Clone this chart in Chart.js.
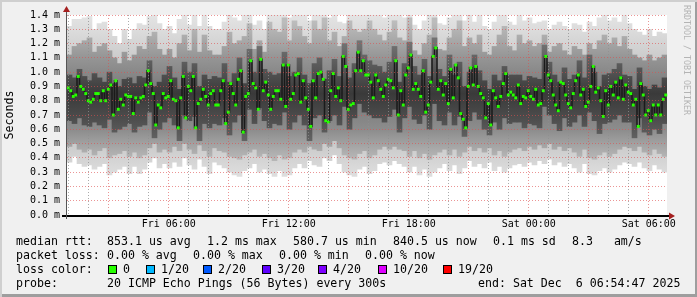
<!DOCTYPE html>
<html>
<head>
<meta charset="utf-8">
<script src="https://cdn.jsdelivr.net/npm/chart.js@4.4.1/dist/chart.umd.min.js"></script>
<style>
  body { margin: 0; background: #f0f0f0; }
  #wrap {
    position: relative; width: 697px; height: 297px; background: #f0f0f0;
    box-shadow: inset 2px 2px 0 #cfcfcf, inset -2px -3px 0 #9e9e9e;
  }
  #wrap canvas { position: absolute; left: 0; top: 0; }
  .t { position: absolute; font: 11.6px "DejaVu Sans Mono", monospace; line-height: 14px; white-space: pre; color: #000; }
  .box { position: absolute; width: 7px; height: 7px; border: 1px solid #000; }
  #credit {
    position: absolute; left: 682px; top: 5px; writing-mode: vertical-rl;
    font: 8.3px "DejaVu Sans Mono", monospace; line-height: 10px; color: #b4b4b4; white-space: pre;
  }
</style>
</head>
<body>
<div id="wrap">
  <canvas id="smoke" width="697" height="297"></canvas>

  <div class="t" style="left:16px; top:234px">median rtt:</div>
  <div class="t" style="left:107px; top:234px">853.1 us avg</div>
  <div class="t" style="left:207px; top:234px">1.2 ms max</div>
  <div class="t" style="left:293px; top:234px">580.7 us min</div>
  <div class="t" style="left:393px; top:234px">840.5 us now</div>
  <div class="t" style="left:493px; top:234px">0.1 ms sd</div>
  <div class="t" style="left:572px; top:234px">8.3   am/s</div>

  <div class="t" style="left:16px; top:248px">packet loss:</div>
  <div class="t" style="left:107px; top:248px">0.00 % avg</div>
  <div class="t" style="left:193px; top:248px">0.00 % max</div>
  <div class="t" style="left:279px; top:248px">0.00 % min</div>
  <div class="t" style="left:365px; top:248px">0.00 % now</div>

  <div class="t" style="left:16px; top:262px">loss color:</div>
  <div id="lossRow"></div>

  <div class="t" style="left:16px; top:276px">probe:</div>
  <div class="t" style="left:107px; top:276px">20 ICMP Echo Pings (56 Bytes) every 300s</div>
  <div class="t" style="left:478px; top:276px">end: Sat Dec  6 06:54:47 2025</div>

  <div id="credit">RRDTOOL / TOBI OETIKER</div>
</div>
<script>
// smoke envelope in ms, one entry per 5-pixel slot (30 h window)
const rttMax = [
  1.32,1.37,1.37,1.38,1.39,1.30,1.34,1.35,1.30,1.25,
  1.20,1.30,1.23,1.30,1.34,1.33,1.39,1.42,1.34,1.30,
  1.32,1.27,1.37,1.40,1.33,1.42,1.32,1.40,1.32,1.30,
  1.30,1.35,1.42,1.38,1.36,1.40,1.42,1.33,1.36,1.30,
  1.42,1.45,1.42,1.45,1.38,1.42,1.45,1.40,1.36,1.45,
  1.42,1.45,1.38,1.40,1.35,1.34,1.45,1.42,1.40,1.42,
  1.45,1.42,1.40,1.38,1.42,1.45,1.40,1.38,1.45,1.33,
  1.30,1.36,1.40,1.45,1.34,1.33,1.38,1.42,1.45,1.36,
  1.40,1.35,1.40,1.32,1.30,1.35,1.40,1.42,1.35,1.33,
  1.40,1.36,1.38,1.34,1.35,1.36,1.30,1.33,1.35,1.32,
  1.30,1.34,1.33,1.28,1.35,1.32,1.38,1.40,1.36,1.38,
  1.35,1.40,1.34,1.30,1.28,1.26,1.30,1.25,1.28,1.27
];
const rttHi2 = [
  1.12,1.18,1.20,1.22,1.24,1.14,1.18,1.20,1.15,1.10,
  1.06,1.14,1.08,1.12,1.18,1.16,1.25,1.28,1.16,1.12,
  1.16,1.10,1.20,1.26,1.15,1.30,1.14,1.26,1.15,1.12,
  1.12,1.18,1.28,1.20,1.22,1.25,1.34,1.16,1.22,1.14,
  1.35,1.30,1.28,1.38,1.22,1.36,1.32,1.25,1.20,1.36,
  1.30,1.38,1.22,1.28,1.18,1.25,1.36,1.30,1.28,1.30,
  1.36,1.30,1.26,1.22,1.28,1.36,1.24,1.22,1.38,1.15,
  1.12,1.20,1.26,1.38,1.16,1.15,1.24,1.30,1.36,1.18,
  1.24,1.20,1.26,1.14,1.12,1.18,1.26,1.32,1.18,1.15,
  1.26,1.20,1.22,1.18,1.20,1.26,1.14,1.18,1.20,1.15,
  1.12,1.18,1.16,1.12,1.20,1.16,1.22,1.26,1.20,1.24,
  1.18,1.25,1.16,1.12,1.10,1.08,1.12,1.08,1.10,1.12
];
const rttHi3 = [
  0.98,0.96,1.02,0.97,0.94,0.99,0.96,0.93,1.00,0.92,
  0.90,0.95,0.96,0.92,0.97,0.96,1.08,0.90,0.93,0.98,
  1.04,0.96,0.88,1.07,1.00,1.06,0.90,0.98,0.95,0.97,
  0.96,1.06,0.93,0.99,1.10,0.92,1.16,1.00,1.18,1.02,
  1.00,0.98,0.99,1.14,0.97,1.00,1.10,0.98,0.92,1.06,
  1.10,0.95,1.01,1.09,0.97,1.20,0.96,1.06,1.22,1.12,
  1.08,1.05,1.04,1.00,1.07,1.18,0.93,1.06,1.21,1.04,
  0.98,1.09,0.97,1.24,1.02,0.97,1.12,0.98,1.07,0.90,
  1.00,1.12,1.01,0.94,0.88,0.98,0.94,1.04,0.98,0.98,
  0.98,0.94,0.97,0.96,0.95,1.19,1.07,0.98,0.93,1.03,
  0.95,0.98,1.08,0.96,1.12,1.00,0.90,0.98,0.99,1.02,
  1.06,0.98,0.97,0.88,1.03,0.90,0.88,0.91,0.89,0.96
];
const rttLo3 = [
  0.66,0.64,0.68,0.63,0.62,0.65,0.63,0.61,0.67,0.58,
  0.60,0.62,0.64,0.58,0.62,0.63,0.72,0.54,0.60,0.65,
  0.68,0.63,0.52,0.70,0.66,0.69,0.52,0.64,0.61,0.64,
  0.63,0.68,0.56,0.65,0.70,0.52,0.74,0.64,0.75,0.66,
  0.61,0.64,0.63,0.72,0.60,0.65,0.70,0.63,0.52,0.68,
  0.70,0.58,0.66,0.70,0.63,0.76,0.60,0.68,0.78,0.72,
  0.70,0.68,0.68,0.65,0.69,0.74,0.58,0.68,0.76,0.67,
  0.64,0.70,0.60,0.78,0.66,0.63,0.72,0.63,0.69,0.55,
  0.66,0.72,0.67,0.60,0.56,0.65,0.60,0.68,0.64,0.65,
  0.65,0.61,0.64,0.63,0.61,0.76,0.70,0.64,0.59,0.68,
  0.62,0.65,0.70,0.62,0.72,0.66,0.57,0.64,0.65,0.67,
  0.70,0.65,0.65,0.54,0.68,0.58,0.56,0.60,0.57,0.64
];
const rttLo2 = [
  0.48,0.50,0.46,0.44,0.46,0.42,0.45,0.47,0.40,0.42,
  0.43,0.45,0.41,0.44,0.40,0.42,0.47,0.50,0.44,0.46,
  0.44,0.48,0.45,0.50,0.46,0.43,0.49,0.45,0.41,0.47,
  0.45,0.44,0.41,0.40,0.39,0.42,0.44,0.46,0.41,0.43,
  0.40,0.38,0.42,0.39,0.40,0.44,0.46,0.44,0.48,0.46,
  0.45,0.50,0.48,0.52,0.47,0.42,0.40,0.39,0.43,0.45,
  0.40,0.42,0.46,0.48,0.46,0.48,0.46,0.45,0.41,0.45,
  0.40,0.43,0.39,0.42,0.44,0.46,0.42,0.46,0.41,0.44,
  0.48,0.45,0.47,0.44,0.47,0.42,0.45,0.41,0.44,0.46,
  0.47,0.45,0.48,0.46,0.49,0.47,0.50,0.46,0.48,0.45,
  0.47,0.44,0.41,0.46,0.40,0.39,0.42,0.44,0.41,0.43,
  0.46,0.48,0.47,0.45,0.48,0.44,0.42,0.46,0.43,0.41
];
const rttMin = [
  0.37,0.41,0.36,0.34,0.35,0.32,0.34,0.36,0.28,0.30,
  0.32,0.34,0.29,0.34,0.29,0.32,0.37,0.40,0.33,0.36,
  0.33,0.37,0.34,0.40,0.35,0.32,0.39,0.34,0.29,0.37,
  0.35,0.33,0.30,0.28,0.27,0.31,0.33,0.36,0.30,0.32,
  0.29,0.27,0.31,0.27,0.28,0.33,0.36,0.33,0.38,0.35,
  0.34,0.40,0.38,0.42,0.36,0.30,0.28,0.27,0.32,0.34,
  0.29,0.31,0.36,0.37,0.35,0.38,0.36,0.34,0.30,0.34,
  0.28,0.32,0.27,0.30,0.33,0.36,0.31,0.35,0.29,0.33,
  0.38,0.34,0.36,0.33,0.37,0.31,0.34,0.30,0.33,0.35,
  0.36,0.34,0.37,0.35,0.38,0.36,0.39,0.35,0.37,0.34,
  0.36,0.33,0.30,0.36,0.29,0.28,0.31,0.33,0.30,0.32,
  0.35,0.37,0.36,0.34,0.37,0.33,0.31,0.35,0.32,0.30
];
// median rtt in ms, one entry per 2.5-pixel slot
const rttMedian = [
  0.89,0.87,0.83,0.84,0.97,0.90,0.88,0.85,0.80,0.79,
  0.81,0.85,0.85,0.80,0.87,0.80,0.88,0.91,0.70,0.94,
  0.74,0.81,0.77,0.84,0.83,0.83,0.71,0.82,0.79,0.82,
  0.83,0.91,1.01,0.92,0.85,0.63,0.77,0.75,0.85,0.82,
  0.83,0.94,0.81,0.80,0.61,0.82,0.97,0.68,0.90,0.87,
  0.97,0.61,0.78,0.81,0.88,0.83,0.77,0.85,0.87,0.77,
  0.77,0.87,0.94,0.64,0.72,0.92,0.85,0.77,0.95,1.01,
  0.58,0.83,0.85,1.08,0.92,0.89,0.74,1.09,0.87,0.93,
  0.84,0.74,0.83,0.87,0.87,0.81,1.05,0.76,1.05,0.81,
  0.85,0.98,0.99,0.79,0.94,0.82,0.74,0.62,0.94,0.82,
  0.99,1.00,0.95,0.66,0.65,0.87,0.99,0.83,0.89,0.80,
  1.11,1.04,0.74,0.77,0.78,1.01,1.14,1.01,1.08,0.98,
  0.98,0.93,0.82,0.98,0.94,0.88,0.83,0.91,0.95,0.94,
  0.89,1.08,0.70,0.87,0.77,0.98,1.03,1.12,0.88,0.92,
  0.88,0.83,1.01,0.72,0.77,0.93,1.11,1.17,0.88,0.94,
  0.84,0.92,0.78,1.02,0.82,1.05,0.96,0.71,0.67,0.61,
  0.90,1.03,0.91,1.04,0.90,0.85,0.82,0.68,0.78,0.63,
  0.87,0.82,0.76,0.83,0.92,0.99,0.84,0.86,0.84,0.82,
  0.91,0.78,0.83,0.82,0.87,0.83,0.81,0.88,0.77,0.78,
  0.87,1.11,0.98,0.94,0.84,0.77,0.73,0.93,0.92,0.84,
  0.78,0.75,0.85,0.94,0.98,0.84,0.88,0.76,0.79,0.90,
  1.04,0.86,0.89,0.80,0.69,0.87,0.77,0.90,0.84,0.93,
  0.82,0.96,0.81,0.91,0.86,0.85,0.77,0.81,0.62,0.92,
  0.84,0.70,0.73,0.66,0.77,0.70,0.77,0.70,0.81,0.84
];
const timeLabels = ["Fri 06:00", "Fri 12:00", "Fri 18:00", "Sat 00:00", "Sat 06:00"];
const lossLabels = ["0", "1/20", "2/20", "3/20", "4/20", "10/20", "19/20"];
const lossColors = ["#26ff00", "#00b8ff", "#0059ff", "#5e00ff", "#7e00ff", "#dd00ff", "#ff0000"];

// loss colour legend
const lossX = [108, 146, 203, 262, 318, 378, 443];
let row = document.getElementById("lossRow");
lossLabels.forEach(function (lab, i) {
  let b = document.createElement("div");
  b.className = "box";
  b.style.left = lossX[i] + "px";
  b.style.top = "265px";
  b.style.background = lossColors[i];
  row.appendChild(b);
  let t = document.createElement("div");
  t.className = "t";
  t.style.left = (lossX[i] + 15) + "px";
  t.style.top = "262px";
  t.textContent = lab;
  row.appendChild(t);
});

const smokeSlots = rttMax.map((v, i) => String(i));
const medSlots = rttMedian.map((v, i) => String(i));
const firstTick = 1 - 54.78 / 60; // graph starts Fri 00:54:47
const hourTicks = [];
for (let k = 0; k < 30; k++) hourTicks.push(firstTick + k);

const mono = "'DejaVu Sans Mono', monospace";
const minorGrid = "rgba(143,143,143,0.75)";
const majorGrid = "rgba(222,79,79,0.6)";

// vertical grey gradient so the smoke gets darker towards the middle
function smokeFill(stops) {
  return function (ctx) {
    const chart = ctx.chart;
    if (!chart.chartArea) return stops[2][1];
    const y = chart.scales.y;
    const g = chart.ctx.createLinearGradient(0, y.getPixelForValue(1.4), 0, y.getPixelForValue(0));
    stops.forEach(s => g.addColorStop((1.4 - s[0]) / 1.4, s[1]));
    return g;
  };
}

const frame = {
  id: "frame",
  beforeDraw(chart) {
    const a = chart.chartArea, c = chart.ctx;
    c.save();
    c.fillStyle = "#ffffff";
    c.fillRect(a.left, a.top, a.right - a.left, a.bottom - a.top);
    c.restore();
  },
  afterDraw(chart) {
    const a = chart.chartArea, c = chart.ctx;
    c.save();
    c.strokeStyle = "#000";
    c.lineWidth = 2;
    c.beginPath();
    c.moveTo(a.left - 5, a.bottom + 1);
    c.lineTo(a.right + 3, a.bottom + 1);
    c.stroke();
    c.lineWidth = 1;
    c.strokeStyle = "#555";
    c.beginPath();
    c.moveTo(a.left - 0.5, a.bottom + 4);
    c.lineTo(a.left - 0.5, a.top - 4);
    c.stroke();
    c.fillStyle = "#a52020";
    c.beginPath();
    c.moveTo(a.right + 2, a.bottom - 2.5);
    c.lineTo(a.right + 8, a.bottom + 1);
    c.lineTo(a.right + 2, a.bottom + 4.5);
    c.fill();
    c.beginPath();
    c.moveTo(a.left - 4, a.top - 3);
    c.lineTo(a.left - 0.5, a.top - 9);
    c.lineTo(a.left + 3, a.top - 3);
    c.fill();
    c.restore();
  }
};

new Chart(document.getElementById("smoke").getContext("2d"), {
  type: "bar",
  data: {
    datasets: [
      {
        type: "bar", data: rttMin.map((v, i) => [v, rttMax[i]]), order: 6, xAxisID: "x",
        backgroundColor: smokeFill([[1.4, "#e4e4e4"], [1.1, "#cccccc"], [0.85, "#b8b8b8"], [0.55, "#c6c6c6"], [0.25, "#e0e0e0"]])
      },
      {
        type: "bar", data: rttLo2.map((v, i) => [v, rttHi2[i]]), order: 5, xAxisID: "x",
        backgroundColor: smokeFill([[1.35, "#bcbcbc"], [1.1, "#959595"], [0.85, "#767676"], [0.6, "#8c8c8c"], [0.4, "#b6b6b6"]])
      },
      {
        type: "bar", data: rttLo3.map((v, i) => [v, rttHi3[i]]), order: 4, xAxisID: "x",
        backgroundColor: smokeFill([[1.2, "#727272"], [1.0, "#525252"], [0.85, "#3a3a3a"], [0.68, "#4c4c4c"], [0.5, "#666666"]])
      },
      {
        type: "line", data: rttMedian, xAxisID: "xMed", order: 1,
        stepped: "middle", borderColor: "#1a1a1a", borderWidth: 1.5,
        pointStyle: "rect", pointRadius: 2.1, pointBorderWidth: 0,
        pointBackgroundColor: "#26ff00", pointBorderColor: "#26ff00"
      }
    ]
  },
  options: {
    responsive: false,
    animation: false,
    devicePixelRatio: 1,
    layout: { padding: { top: 15, right: 30, left: 0, bottom: 0 } },
    datasets: { bar: { grouped: false, categoryPercentage: 1, barPercentage: 1, borderWidth: 0 } },
    plugins: { legend: { display: false }, tooltip: { enabled: false } },
    scales: {
      x: { type: "category", labels: smokeSlots, display: false, offset: true },
      xMed: { type: "category", axis: "x", labels: medSlots, display: false, offset: true },
      xTime: {
        type: "linear", axis: "x", position: "bottom", min: 0, max: 30, z: 1, offset: false,
        afterBuildTicks: s => { s.ticks = hourTicks.map(v => ({ value: v })); },
        afterFit: s => { s.height = 82; },
        grid: {
          z: 1, offset: false, drawTicks: false,
          color: c => {
            if (!c.tick) return minorGrid;
            const k = Math.round(c.tick.value - firstTick);
            return (k + 1) % 3 === 0 ? majorGrid : minorGrid;
          }
        },
        border: { display: false, dash: [1, 2] },
        ticks: {
          autoSkip: false, maxRotation: 0, padding: 3, color: "#000",
          font: { family: mono, size: 10 },
          callback: v => {
            const k = Math.round(v - firstTick);
            if ((k + 1) % 6 !== 0) return "";
            return timeLabels[(k - 5) / 6];
          }
        }
      },
      y: {
        min: 0, max: 1.4, z: 1,
        afterFit: s => { s.width = 67; },
        grid: { z: 1, color: majorGrid, drawTicks: false },
        border: { display: false, dash: [1, 2] },
        ticks: {
          stepSize: 0.1, autoSkip: false, padding: 7, color: "#000",
          font: { family: mono, size: 10 },
          callback: v => v.toFixed(1) + " m"
        },
        title: {
          display: true, text: "Seconds", color: "#000",
          font: { family: mono, size: 11.6 }, padding: { top: 3, bottom: 0 }
        }
      }
    }
  },
  plugins: [frame]
});
</script>
</body>
</html>
